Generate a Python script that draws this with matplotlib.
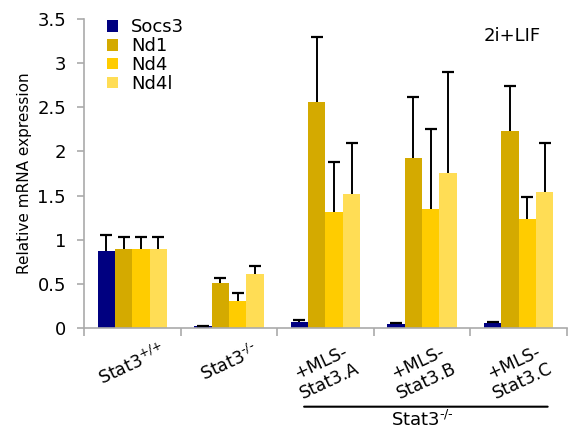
import matplotlib
matplotlib.use("Agg")
import matplotlib.pyplot as plt
import numpy as np

categories = ["Stat3$^{\\text{+/+}}$", "Stat3$^{\\text{-/-}}$", "+MLS-\nStat3.A", "+MLS-\nStat3.B", "+MLS-\nStat3.C"]
series = ["Socs3", "Nd1", "Nd4", "Nd4l"]
socs3 = [0.87, 0.02, 0.07, 0.05, 0.06]
socs3_err = [0.18, 0.0, 0.02, 0.01, 0.01]
nd1 = [0.89, 0.51, 2.56, 1.92, 2.23]
nd1_err = [0.14, 0.06, 0.73, 0.70, 0.51]
nd4 = [0.89, 0.31, 1.31, 1.35, 1.23]
nd4_err = [0.14, 0.09, 0.57, 0.90, 0.25]
nd4l = [0.90, 0.61, 1.52, 1.75, 1.54]
nd4l_err = [0.13, 0.09, 0.57, 1.15, 0.55]
colors = ["#000080", "#D4AA00", "#FFCC00", "#FFDD55"]

values = [socs3, nd1, nd4, nd4l]
errors = [socs3_err, nd1_err, nd4_err, nd4l_err]

fig = plt.figure(figsize=(5.72, 4.38), dpi=100)
ax = fig.add_axes([0.147, 0.251, 0.844, 0.706])

x = np.arange(len(categories))
w = 0.18
for i, (vals, errs, c, name) in enumerate(zip(values, errors, colors, series)):
    pos = x + (i - 1.5) * w
    vals = np.array(vals)
    errs = np.array(errs)
    ax.bar(pos, vals, width=w, color=c, label=name, zorder=2)
    tops = vals + errs
    ax.vlines(pos, vals, tops, color='black', lw=1.4, zorder=3)
    ax.plot(pos, tops, ls='none', marker='_', markersize=8, mew=1.6, color='black', zorder=3)

ax.set_xlim(-0.5, 4.5)
ax.set_ylim(0, 3.5)
ax.set_yticks([0, 0.5, 1, 1.5, 2, 2.5, 3, 3.5])
ax.set_yticklabels(["0", "0.5", "1", "1.5", "2", "2.5", "3", "3.5"], fontsize=13)
ax.set_xticks(np.arange(-0.5, 5, 1.0))
ax.set_xticklabels([])
ax.set_xticks(x, minor=True)
ax.set_xticklabels(categories, minor=True, rotation=25, ha='center', va='top',
                   multialignment='center', fontsize=12.5)
ax.tick_params(axis='x', which='minor', length=0, pad=9)
ax.tick_params(axis='x', which='major', length=6, direction='out', color='#aaaaaa', width=1.2)
ax.tick_params(axis='y', length=5, direction='out', color='#aaaaaa', width=1.2, pad=8)

for s in ['top', 'right']:
    ax.spines[s].set_visible(False)
for s in ['left', 'bottom']:
    ax.spines[s].set_color('#aaaaaa')
    ax.spines[s].set_linewidth(1.2)

ax.set_ylabel("Relative mRNA expression", fontsize=11, labelpad=4)

leg = ax.legend(loc='upper left', bbox_to_anchor=(0.032, 1.025), frameon=False,
                fontsize=13, handlelength=0.6, handleheight=0.6, handletextpad=0.75,
                labelspacing=0.05, borderaxespad=0)

ax.text(0.945, 0.975, "2i+LIF", transform=ax.transAxes, fontsize=13, ha='right', va='top')

# group annotation
ax.annotate('', xy=(1.75, -0.89), xytext=(4.33, -0.89), xycoords='data',
            arrowprops=dict(arrowstyle='-', color='black', lw=1.5), annotation_clip=False)
ax.text(3.0, -0.93, "Stat3$^{\\text{-/-}}$", fontsize=13, ha='center', va='top', clip_on=False)

fig.savefig("out.png", dpi=100)
